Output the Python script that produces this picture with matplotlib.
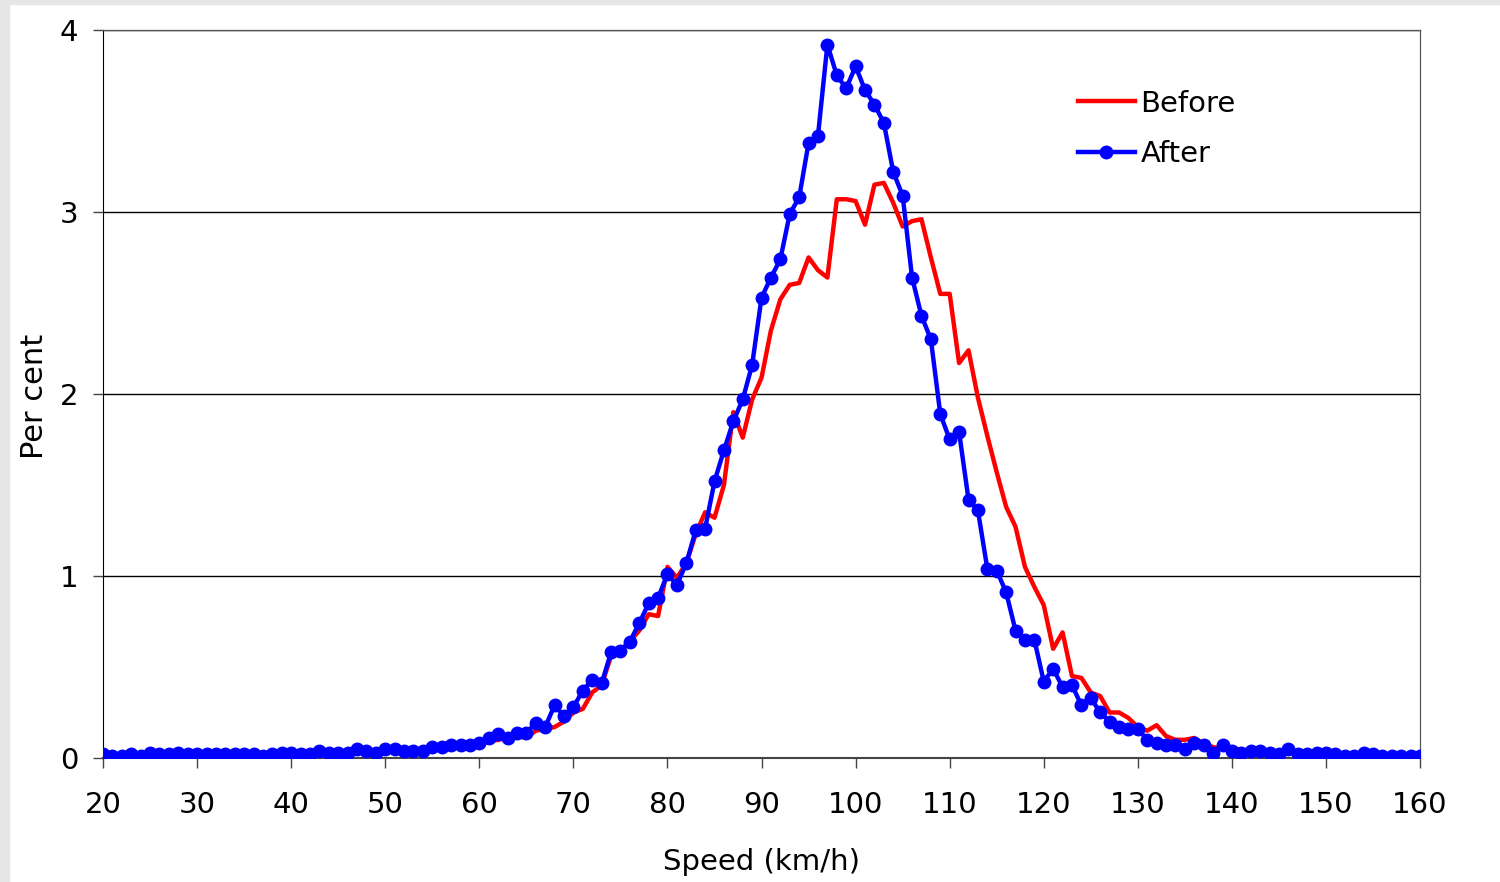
import numpy as np
import matplotlib
matplotlib.use("Agg")
import matplotlib.pyplot as plt
from matplotlib.patches import Rectangle

# speed bins, 1 km/h
speed = np.arange(20, 161)

before = [
    0.01, 0.01, 0.01, 0.01, 0.01, 0.02, 0.01, 0.02, 0.02, 0.02,   # 20-29
    0.02, 0.02, 0.02, 0.02, 0.02, 0.02, 0.02, 0.01, 0.02, 0.02,   # 30-39
    0.02, 0.02, 0.02, 0.03, 0.03, 0.03, 0.03, 0.04, 0.04, 0.03,   # 40-49
    0.04, 0.04, 0.04, 0.04, 0.04, 0.05, 0.05, 0.06, 0.06, 0.07,   # 50-59
    0.07, 0.09, 0.10, 0.11, 0.12, 0.11, 0.15, 0.16, 0.17, 0.20,   # 60-69
    0.25, 0.27, 0.36, 0.40, 0.56, 0.59, 0.64, 0.70, 0.79, 0.78,   # 70-79
    1.05, 0.99, 1.07, 1.23, 1.35, 1.32, 1.50, 1.90, 1.76, 1.97,   # 80-89
    2.09, 2.35, 2.52, 2.60, 2.61, 2.75, 2.68, 2.64, 3.07, 3.07,   # 90-99
    3.06, 2.93, 3.15, 3.16, 3.05, 2.92, 2.95, 2.96, 2.75, 2.55,   # 100-109
    2.55, 2.17, 2.24, 1.98, 1.77, 1.57, 1.38, 1.27, 1.05, 0.94,   # 110-119
    0.84, 0.60, 0.69, 0.45, 0.44, 0.36, 0.34, 0.25, 0.25, 0.22,   # 120-129
    0.17, 0.15, 0.18, 0.12, 0.10, 0.10, 0.11, 0.08, 0.06, 0.05,   # 130-139
    0.06, 0.04, 0.04, 0.03, 0.03, 0.03, 0.03, 0.02, 0.02, 0.02,   # 140-149
    0.02, 0.02, 0.01, 0.01, 0.02, 0.01, 0.01, 0.01, 0.01, 0.01,   # 150-159
    0.01,                                                         # 160
]

after = [
    0.02, 0.01, 0.01, 0.02, 0.01, 0.03, 0.02, 0.02, 0.03, 0.02,   # 20-29
    0.02, 0.02, 0.02, 0.02, 0.02, 0.02, 0.02, 0.01, 0.02, 0.03,   # 30-39
    0.03, 0.02, 0.02, 0.04, 0.03, 0.03, 0.03, 0.05, 0.04, 0.03,   # 40-49
    0.05, 0.05, 0.04, 0.04, 0.04, 0.06, 0.06, 0.07, 0.07, 0.07,   # 50-59
    0.08, 0.11, 0.13, 0.11, 0.14, 0.14, 0.19, 0.17, 0.29, 0.23,   # 60-69
    0.28, 0.37, 0.43, 0.41, 0.58, 0.59, 0.64, 0.74, 0.85, 0.88,   # 70-79
    1.01, 0.95, 1.07, 1.25, 1.26, 1.52, 1.69, 1.85, 1.97, 2.16,   # 80-89
    2.53, 2.64, 2.74, 2.99, 3.08, 3.38, 3.42, 3.92, 3.75, 3.68,   # 90-99
    3.80, 3.67, 3.59, 3.49, 3.22, 3.09, 2.64, 2.43, 2.30, 1.89,   # 100-109
    1.75, 1.79, 1.42, 1.36, 1.04, 1.03, 0.91, 0.70, 0.65, 0.65,   # 110-119
    0.42, 0.49, 0.39, 0.40, 0.29, 0.33, 0.25, 0.20, 0.17, 0.16,   # 120-129
    0.16, 0.10, 0.08, 0.07, 0.07, 0.05, 0.08, 0.07, 0.03, 0.07,   # 130-139
    0.04, 0.03, 0.04, 0.04, 0.03, 0.02, 0.05, 0.02, 0.02, 0.03,   # 140-149
    0.03, 0.02, 0.01, 0.01, 0.03, 0.02, 0.01, 0.01, 0.01, 0.01,   # 150-159
    0.01,                                                         # 160
]

fig = plt.figure(figsize=(15, 8.82), dpi=100)
# light grey frame at the left/top edge of the original slide
fig.patches.append(Rectangle((0, 0), 0.006, 1, transform=fig.transFigure,
                             color="#e6e6e6", zorder=0))
fig.patches.append(Rectangle((0, 0.996), 1, 0.004, transform=fig.transFigure,
                             color="#e6e6e6", zorder=0))

ax = fig.add_axes([0.0687, 0.1406, 0.878, 0.8254])

ax.plot(speed, before, color="#ff0000", lw=3.2, label="Before", zorder=3)
ax.plot(speed, after, color="#0000ff", lw=3.2, marker="o", markersize=9,
        label="After", zorder=4)

ax.set_xlim(20, 160)
ax.set_ylim(0, 4)
ax.set_xticks(range(20, 161, 10))
ax.set_yticks(range(0, 5))
ax.grid(axis="y", color="black", lw=1.0)
ax.set_axisbelow(True)

for s in ["top", "right"]:
    ax.spines[s].set_color("#555555")
    ax.spines[s].set_linewidth(0.9)
ax.spines["left"].set_color("black")
ax.spines["bottom"].set_color("#444444")
ax.spines["bottom"].set_linewidth(1.5)

ax.tick_params(axis="both", labelsize=21, length=7, width=1, color="#444444")
ax.tick_params(axis="x", pad=17)
ax.tick_params(axis="y", pad=11)

ax.set_xlabel("Speed (km/h)", fontsize=21)
ax.xaxis.set_label_coords(0.5, -0.124)
ax.set_ylabel("Per cent", fontsize=22)
ax.yaxis.set_label_coords(-0.041, 0.497)

ax.legend(loc="upper left", bbox_to_anchor=(0.740, 0.918), frameon=False,
          fontsize=21, handlelength=1.95, handletextpad=0.2, labelspacing=0.78,
          borderpad=0, borderaxespad=0)

plt.savefig("out.png", dpi=100)
